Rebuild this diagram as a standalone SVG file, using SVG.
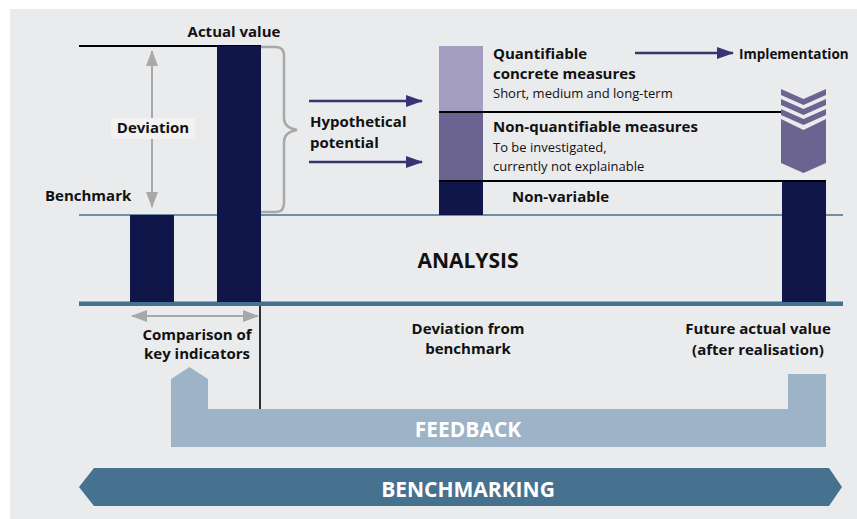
<svg xmlns="http://www.w3.org/2000/svg" width="857" height="519" viewBox="0 0 857 519">
  <defs>
    <style>
      text { font-family: "Open Sans", "Noto Sans", "Liberation Sans", sans-serif; fill: #111; }
      .b { font-weight: 700; font-size: 15px; }
      .s { font-weight: 400; font-size: 13px; }
      .big { font-weight: 700; font-size: 21px; }
      .w { fill: #ffffff; }
      .mid { text-anchor: middle; }
      .grayarrow { stroke: #a8a8a8; stroke-width: 2; fill: none; }
      .purplearrow { stroke: #3a3373; stroke-width: 2.5; fill: none; }
      .navy { fill: #10154a; }
    </style>
    <marker id="gh" viewBox="0 0 16 12" refX="15" refY="6" markerWidth="16" markerHeight="12" markerUnits="userSpaceOnUse" orient="auto-start-reverse">
      <path d="M0,0 L16,6 L0,12 Z" fill="#a8a8a8"/>
    </marker>
    <marker id="ph" viewBox="0 0 17 12" refX="16" refY="6" markerWidth="17" markerHeight="12" markerUnits="userSpaceOnUse" orient="auto">
      <path d="M0,0 L17,6 L0,12 Z" fill="#3a3373"/>
    </marker>
  </defs>

  <!-- panel background -->
  <rect x="10" y="9" width="847" height="510" fill="#eaebed"/>

  <!-- baselines -->
  <g id="axes">
    <line x1="79" y1="46" x2="261" y2="46" stroke="#000" stroke-width="2"/>
    <line x1="79" y1="215" x2="843" y2="215" stroke="#46718f" stroke-width="1.6"/>
    <line x1="79" y1="303.8" x2="843" y2="303.8" stroke="#46718f" stroke-width="4.5"/>
    <line x1="260" y1="306" x2="260" y2="409" stroke="#000" stroke-width="1.6"/>
    <line x1="483" y1="112" x2="781" y2="112" stroke="#000" stroke-width="2"/>
    <line x1="483" y1="181" x2="826" y2="181" stroke="#000" stroke-width="2"/>
  </g>

  <!-- bars -->
  <g id="benchmark-bar"><rect class="navy" x="130" y="215" width="44" height="87"/></g>
  <g id="actual-bar"><rect class="navy" x="217" y="46" width="44" height="256"/></g>
  <g id="measure-stack">
    <rect x="439" y="46" width="44" height="65" fill="#a39dc0"/>
    <rect x="439" y="113" width="44" height="67" fill="#6c6490"/>
    <rect x="439" y="182" width="44" height="33" fill="#10154a"/>
    <line x1="439" y1="112" x2="483" y2="112" stroke="#000" stroke-width="2"/>
    <line x1="439" y1="181" x2="483" y2="181" stroke="#000" stroke-width="2"/>
  </g>
  <g id="future-bar"><rect class="navy" x="782" y="182" width="44" height="120"/></g>

  <!-- implementation chevrons -->
  <g id="chevrons" fill="#6c6490">
    <polygon points="781,89 803.5,99 826,89 826,95 803.5,105 781,95"/>
    <polygon points="781,99 803.5,109 826,99 826,105 803.5,115 781,105"/>
    <polygon points="781,109 803.5,119 826,109 826,115 803.5,125 781,115"/>
    <polygon points="781,119 803.5,130 826,119 826,163 803.5,173 781,163"/>
  </g>

  <!-- feedback loop -->
  <g id="feedback">
    <polygon points="171,379 189.5,367 208,379 208,409 788,409 788,374 826,374 826,447 171,447" fill="#9db3c7"/>
    <text class="big w mid" x="468" y="437">FEEDBACK</text>
  </g>

  <!-- benchmarking band -->
  <g id="benchmarking">
    <polygon points="79,487 94,468 829,468 842,487 829,506 94,506" fill="#46718f"/>
    <text class="big w mid" x="468" y="497">BENCHMARKING</text>
  </g>

  <!-- connectors -->
  <g id="connectors">
    <path d="M261,47 H276 Q284,47 284,56 V118 Q284,128 297,130 Q284,132 284,142 V203 Q284,212 276,212 H261" stroke="#a8a8a8" stroke-width="2.5" fill="none"/>
    <line class="grayarrow" x1="152" y1="51" x2="152" y2="207" marker-start="url(#gh)" marker-end="url(#gh)"/>
    <line class="grayarrow" x1="132" y1="316" x2="258" y2="316" marker-start="url(#gh)" marker-end="url(#gh)"/>
    <line class="purplearrow" x1="309" y1="101" x2="422" y2="101" marker-end="url(#ph)"/>
    <line class="purplearrow" x1="309" y1="162" x2="422" y2="162" marker-end="url(#ph)"/>
    <line class="purplearrow" x1="635" y1="53" x2="733" y2="53" marker-end="url(#ph)"/>
  </g>

  <!-- labels -->
  <g id="label-actual"><text class="b mid" x="234" y="37">Actual value</text></g>
  <g id="label-deviation">
    <rect x="111" y="118" width="84" height="21" fill="#f2f2f3"/>
    <text class="b mid" x="153" y="133">Deviation</text>
  </g>
  <g id="label-benchmark"><text class="b" x="45" y="201">Benchmark</text></g>
  <g id="label-potential">
    <text class="b" x="310" y="127">Hypothetical</text>
    <text class="b" x="310" y="148">potential</text>
  </g>
  <g id="label-quantifiable">
    <text class="b" x="493" y="59">Quantifiable</text>
    <text class="b" x="493" y="79">concrete measures</text>
    <text class="s" x="493" y="98">Short, medium and long-term</text>
  </g>
  <g id="label-nonquantifiable">
    <text class="b" x="493" y="132">Non-quantifiable measures</text>
    <text class="s" x="493" y="152">To be investigated,</text>
    <text class="s" x="493" y="171">currently not explainable</text>
  </g>
  <g id="label-nonvariable"><text class="b" x="512" y="202">Non-variable</text></g>
  <g id="label-implementation"><text class="b" x="739" y="59" style="font-size:13.5px">Implementation</text></g>
  <g id="label-analysis"><text class="big mid" x="468" y="268">ANALYSIS</text></g>
  <g id="label-comparison">
    <text class="b mid" x="197" y="340">Comparison of</text>
    <text class="b mid" x="197" y="359">key indicators</text>
  </g>
  <g id="label-devfrom">
    <text class="b mid" x="468" y="334">Deviation from</text>
    <text class="b mid" x="468" y="354">benchmark</text>
  </g>
  <g id="label-future">
    <text class="b mid" x="758" y="334">Future actual value</text>
    <text class="b mid" x="758" y="355">(after realisation)</text>
  </g>
</svg>
